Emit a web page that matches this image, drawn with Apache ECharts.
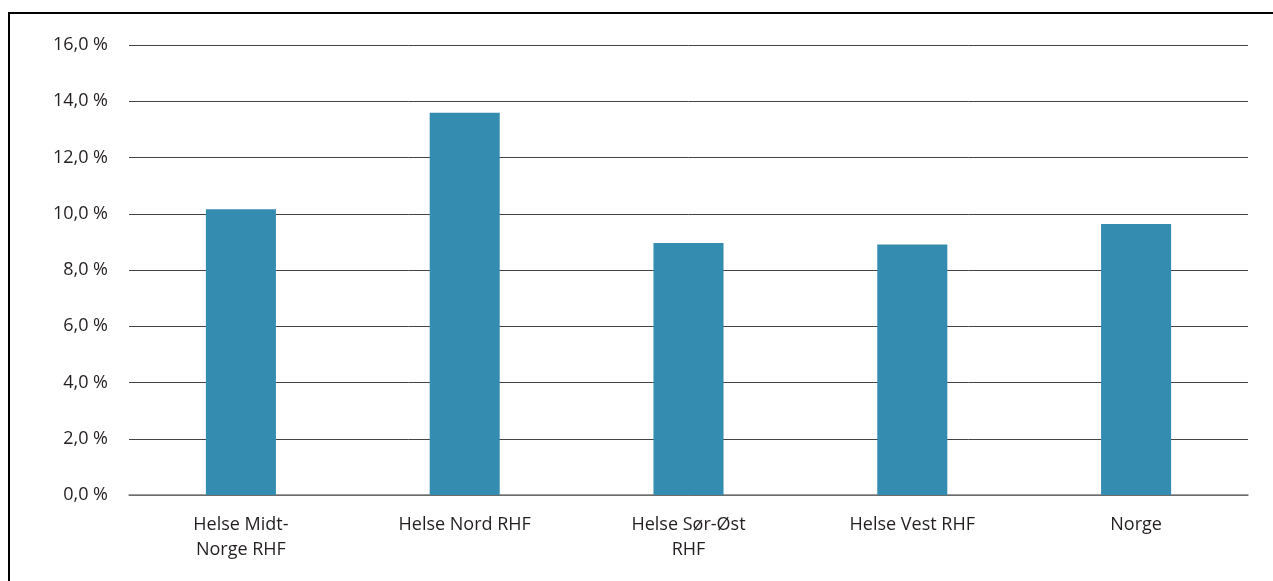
<!DOCTYPE html>
<html>
<head>
<meta charset="utf-8">
<script src="https://cdn.jsdelivr.net/npm/echarts@6/dist/echarts.min.js"></script>
<style>
html,body{margin:0;padding:0;background:#fff;}
#frame{position:absolute;left:8px;top:12px;width:1300px;height:600px;border-top:2.5px solid #000;border-left:2.5px solid #000;box-sizing:border-box;}
#chart{position:absolute;left:0;top:0;width:1273px;height:581px;}
</style>
</head>
<body>
<div id="frame"></div>
<div id="chart"></div>
<script>
var categories = ["Helse Midt-\nNorge RHF", "Helse Nord RHF", "Helse Sør-Øst\nRHF", "Helse Vest RHF", "Norge"];
var values = [10.16, 13.59, 8.96, 8.91, 9.64];

var chart = echarts.init(document.getElementById('chart'));
chart.setOption({
  animation: false,
  grid: {left: 129, right: 25, top: 45, bottom: 86, containLabel: false},
  xAxis: {
    type: 'category',
    data: categories,
    axisLine: {show: true, lineStyle: {color: '#7a7a7a', width: 1.5}},
    axisTick: {show: false},
    axisLabel: {color: '#231f20', fontSize: 18, fontFamily: 'Open Sans, sans-serif', margin: 17, lineHeight: 25, interval: 0}
  },
  yAxis: {
    type: 'value',
    min: 0, max: 16, interval: 2,
    axisLine: {show: false},
    axisTick: {show: false},
    splitLine: {lineStyle: {color: '#444', width: 1}},
    axisLabel: {color: '#231f20', fontSize: 18, fontFamily: 'Open Sans, sans-serif', margin: 21,
      formatter: function(v){ return v.toFixed(1).replace('.', ',') + ' %'; }}
  },
  series: [{
    type: 'bar',
    data: values,
    barWidth: '31.3%',
    itemStyle: {color: '#348cb0'}
  }]
});
</script>
</body>
</html>
